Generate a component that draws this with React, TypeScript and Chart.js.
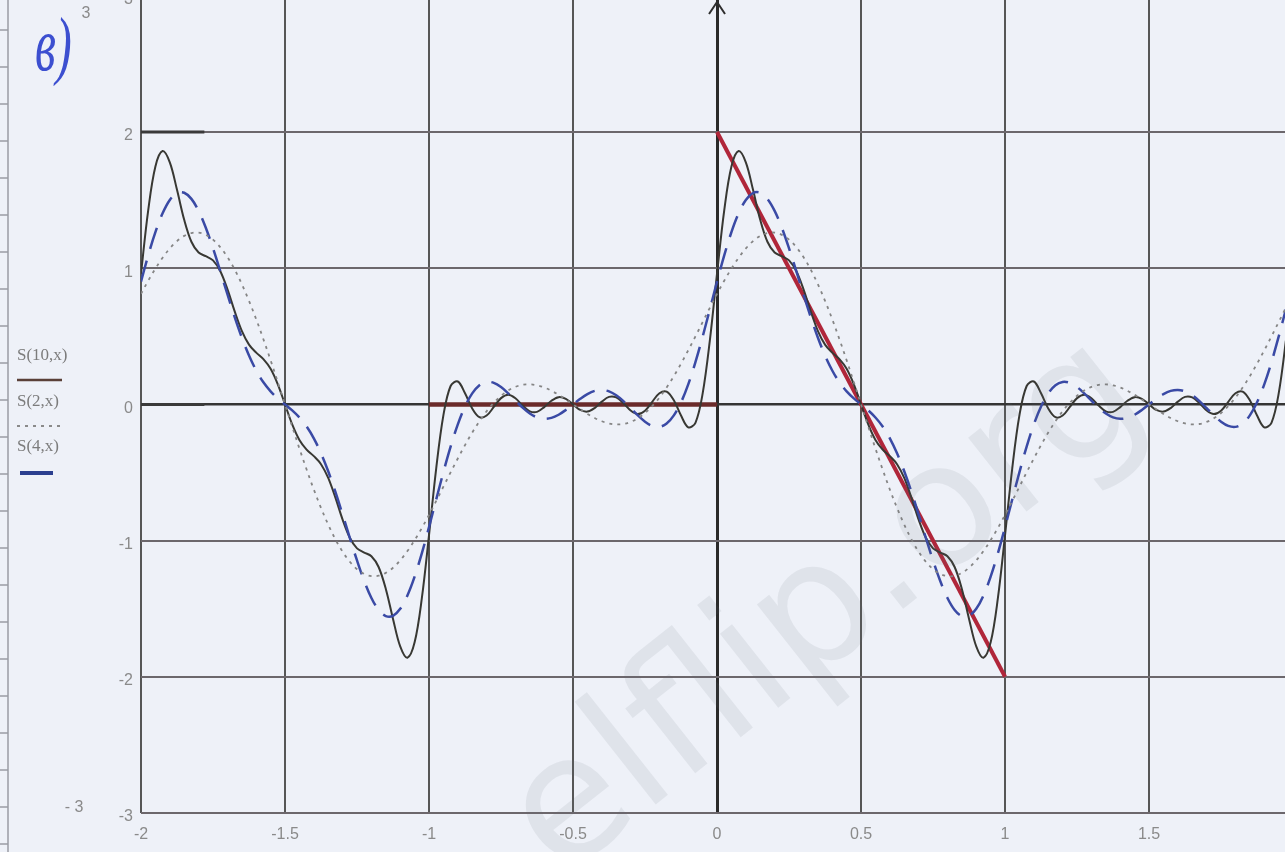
import React, { useEffect, useRef } from "react";
import { Chart, registerables } from "chart.js";

Chart.register(...registerables);

// sample positions along x
const X = [
  -2, -1.975, -1.95, -1.925, -1.9, -1.875, -1.85, -1.825, -1.8, -1.775, -1.75, -1.725, -1.7, -1.675, -1.65, -1.625, -1.6, -1.575, -1.55, -1.525,
  -1.5, -1.475, -1.45, -1.425, -1.4, -1.375, -1.35, -1.325, -1.3, -1.275, -1.25, -1.225, -1.2, -1.175, -1.15, -1.125, -1.1, -1.075, -1.05, -1.025,
  -1, -0.975, -0.95, -0.925, -0.9, -0.875, -0.85, -0.825, -0.8, -0.775, -0.75, -0.725, -0.7, -0.675, -0.65, -0.625, -0.6, -0.575, -0.55, -0.525,
  -0.5, -0.475, -0.45, -0.425, -0.4, -0.375, -0.35, -0.325, -0.3, -0.275, -0.25, -0.225, -0.2, -0.175, -0.15, -0.125, -0.1, -0.075, -0.05, -0.025,
  0, 0.025, 0.05, 0.075, 0.1, 0.125, 0.15, 0.175, 0.2, 0.225, 0.25, 0.275, 0.3, 0.325, 0.35, 0.375, 0.4, 0.425, 0.45, 0.475,
  0.5, 0.525, 0.55, 0.575, 0.6, 0.625, 0.65, 0.675, 0.7, 0.725, 0.75, 0.775, 0.8, 0.825, 0.85, 0.875, 0.9, 0.925, 0.95, 0.975,
  1, 1.025, 1.05, 1.075, 1.1, 1.125, 1.15, 1.175, 1.2, 1.225, 1.25, 1.275, 1.3, 1.325, 1.35, 1.375, 1.4, 1.425, 1.45, 1.475,
  1.5, 1.525, 1.55, 1.575, 1.6, 1.625, 1.65, 1.675, 1.7, 1.725, 1.75, 1.775, 1.8, 1.825, 1.85, 1.875, 1.9, 1.925, 1.95, 1.975,
  2,
];

// S(10,x) – solid
const S10 = [
  0.960, 1.425, 1.747, 1.860, 1.777, 1.575, 1.355, 1.194, 1.115, 1.088, 1.057, 0.979, 0.846, 0.685, 0.540, 0.439, 0.380, 0.332, 0.261, 0.147,
  0, -0.147, -0.261, -0.332, -0.380, -0.439, -0.540, -0.685, -0.846, -0.979, -1.057, -1.088, -1.115, -1.194, -1.355, -1.575, -1.777, -1.860, -1.747, -1.425,
  -0.960, -0.469, -0.079, 0.135, 0.168, 0.082, -0.030, -0.094, -0.082, -0.019, 0.046, 0.071, 0.045, -0.009, -0.051, -0.055, -0.020, 0.027, 0.053, 0.041,
  0, -0.041, -0.053, -0.027, 0.020, 0.055, 0.051, 0.009, -0.045, -0.071, -0.046, 0.019, 0.082, 0.094, 0.030, -0.082, -0.168, -0.135, 0.079, 0.469,
  0.960, 1.425, 1.747, 1.860, 1.777, 1.575, 1.355, 1.194, 1.115, 1.088, 1.057, 0.979, 0.846, 0.685, 0.540, 0.439, 0.380, 0.332, 0.261, 0.147,
  0, -0.147, -0.261, -0.332, -0.380, -0.439, -0.540, -0.685, -0.846, -0.979, -1.057, -1.088, -1.115, -1.194, -1.355, -1.575, -1.777, -1.860, -1.747, -1.425,
  -0.960, -0.469, -0.079, 0.135, 0.168, 0.082, -0.030, -0.094, -0.082, -0.019, 0.046, 0.071, 0.045, -0.009, -0.051, -0.055, -0.020, 0.027, 0.053, 0.041,
  0, -0.041, -0.053, -0.027, 0.020, 0.055, 0.051, 0.009, -0.045, -0.071, -0.046, 0.019, 0.082, 0.094, 0.030, -0.082, -0.168, -0.135, 0.079, 0.469,
  0.960,
];

// S(2,x) – dotted grey
const S2 = [
  0.811, 0.908, 0.997, 1.077, 1.145, 1.199, 1.237, 1.258, 1.261, 1.245, 1.210, 1.155, 1.082, 0.991, 0.883, 0.760, 0.625, 0.478, 0.324, 0.163,
  0, -0.163, -0.324, -0.478, -0.625, -0.760, -0.883, -0.991, -1.082, -1.155, -1.210, -1.245, -1.261, -1.258, -1.237, -1.199, -1.145, -1.077, -0.997, -0.908,
  -0.811, -0.709, -0.604, -0.499, -0.397, -0.299, -0.207, -0.124, -0.050, 0.012, 0.063, 0.102, 0.129, 0.144, 0.147, 0.140, 0.124, 0.100, 0.070, 0.036,
  0, -0.036, -0.070, -0.100, -0.124, -0.140, -0.147, -0.144, -0.129, -0.102, -0.063, -0.012, 0.050, 0.124, 0.207, 0.299, 0.397, 0.499, 0.604, 0.709,
  0.811, 0.908, 0.997, 1.077, 1.145, 1.199, 1.237, 1.258, 1.261, 1.245, 1.210, 1.155, 1.082, 0.991, 0.883, 0.760, 0.625, 0.478, 0.324, 0.163,
  0, -0.163, -0.324, -0.478, -0.625, -0.760, -0.883, -0.991, -1.082, -1.155, -1.210, -1.245, -1.261, -1.258, -1.237, -1.199, -1.145, -1.077, -0.997, -0.908,
  -0.811, -0.709, -0.604, -0.499, -0.397, -0.299, -0.207, -0.124, -0.050, 0.012, 0.063, 0.102, 0.129, 0.144, 0.147, 0.140, 0.124, 0.100, 0.070, 0.036,
  0, -0.036, -0.070, -0.100, -0.124, -0.140, -0.147, -0.144, -0.129, -0.102, -0.063, -0.012, 0.050, 0.124, 0.207, 0.299, 0.397, 0.499, 0.604, 0.709,
  0.811,
];

// S(4,x) – blue dashed
const S4 = [
  0.901, 1.094, 1.265, 1.403, 1.501, 1.552, 1.554, 1.509, 1.421, 1.297, 1.146, 0.980, 0.809, 0.643, 0.491, 0.359, 0.249, 0.162, 0.096, 0.044,
  0, -0.044, -0.096, -0.162, -0.249, -0.359, -0.491, -0.643, -0.809, -0.980, -1.146, -1.297, -1.421, -1.509, -1.554, -1.552, -1.501, -1.403, -1.265, -1.094,
  -0.901, -0.698, -0.497, -0.310, -0.147, -0.015, 0.081, 0.141, 0.165, 0.158, 0.127, 0.081, 0.028, -0.024, -0.067, -0.095, -0.106, -0.099, -0.076, -0.041,
  0, 0.041, 0.076, 0.099, 0.106, 0.095, 0.067, 0.024, -0.028, -0.081, -0.127, -0.158, -0.165, -0.141, -0.081, 0.015, 0.147, 0.310, 0.497, 0.698,
  0.901, 1.094, 1.265, 1.403, 1.501, 1.552, 1.554, 1.509, 1.421, 1.297, 1.146, 0.980, 0.809, 0.643, 0.491, 0.359, 0.249, 0.162, 0.096, 0.044,
  0, -0.044, -0.096, -0.162, -0.249, -0.359, -0.491, -0.643, -0.809, -0.980, -1.146, -1.297, -1.421, -1.509, -1.554, -1.552, -1.501, -1.403, -1.265, -1.094,
  -0.901, -0.698, -0.497, -0.310, -0.147, -0.015, 0.081, 0.141, 0.165, 0.158, 0.127, 0.081, 0.028, -0.024, -0.067, -0.095, -0.106, -0.099, -0.076, -0.041,
  0, 0.041, 0.076, 0.099, 0.106, 0.095, 0.067, 0.024, -0.028, -0.081, -0.127, -0.158, -0.165, -0.141, -0.081, 0.015, 0.147, 0.310, 0.497, 0.698,
  0.901,
];

// the original function f(x) (red)
const F_ZERO_X = [-1, 0];
const F_ZERO_Y = [0, 0];
const F_RAMP_X = [0, 1];
const F_RAMP_Y = [2, -2];

const X_TICKS = [-2, -1.5, -1, -0.5, 0, 0.5, 1, 1.5];
const Y_TICKS = [-3, -2, -1, 0, 1, 2];
const LEGEND_LABELS = ["S(10,x)", "S(2,x)", "S(4,x)"];
const CORNER_LABEL = "в)";
const Y_LIMIT_TOP = "3";
const Y_LIMIT_BOTTOM = "- 3";
const WATERMARK = "elflip.org";

const pts = (xs: number[], ys: number[]) => xs.map((x, i) => ({ x, y: ys[i] }));

const zeroPad = (s: any) => {
  s.paddingTop = 0;
  s.paddingBottom = 0;
  s.paddingLeft = 0;
  s.paddingRight = 0;
};

export default function App() {
  const ref = useRef<HTMLCanvasElement>(null);

  useEffect(() => {
    document.body.style.margin = "0";
    const canvas = ref.current;
    if (!canvas) return;

    const decor = {
      id: "decor",
      beforeDraw(chart: any) {
        const ctx = chart.ctx;
        ctx.save();
        ctx.fillStyle = "#eef1f8";
        ctx.fillRect(0, 0, chart.width, chart.height);
        // graph paper strip at the left
        ctx.strokeStyle = "#9a9ca4";
        ctx.lineWidth = 1.5;
        ctx.beginPath();
        ctx.moveTo(8, 0);
        ctx.lineTo(8, chart.height);
        for (let y = 30; y < chart.height; y += 37) {
          ctx.moveTo(0, y);
          ctx.lineTo(8, y);
        }
        ctx.stroke();
        ctx.restore();
      },
      afterDraw(chart: any) {
        const ctx = chart.ctx;
        const xs = chart.scales.x;
        const ys = chart.scales.y;
        ctx.save();
        // arrow at top of y-axis
        const ax = xs.getPixelForValue(0);
        ctx.strokeStyle = "#2e2e2e";
        ctx.lineWidth = 2;
        ctx.beginPath();
        ctx.moveTo(ax - 8, 14);
        ctx.lineTo(ax, 2);
        ctx.lineTo(ax + 8, 14);
        ctx.stroke();
        // short thick marks at left of the y=2 and y=0 lines
        ctx.strokeStyle = "#3a3a3a";
        ctx.lineWidth = 3;
        ctx.beginPath();
        ctx.moveTo(xs.getPixelForValue(-2), ys.getPixelForValue(2));
        ctx.lineTo(xs.getPixelForValue(-1.78), ys.getPixelForValue(2));
        ctx.moveTo(xs.getPixelForValue(-2), ys.getPixelForValue(0));
        ctx.lineTo(xs.getPixelForValue(-1.78), ys.getPixelForValue(0));
        ctx.stroke();

        // cut-off top tick label and limit labels
        ctx.fillStyle = "#8a8a8a";
        ctx.font = "16px 'Liberation Sans'";
        ctx.textAlign = "right";
        ctx.textBaseline = "middle";
        ctx.fillText("3", 133, ys.getPixelForValue(3) + 4);
        ctx.textAlign = "center";
        ctx.fillText(Y_LIMIT_TOP, 86, 14);
        ctx.fillText(Y_LIMIT_BOTTOM, 74, 808);

        // legend
        ctx.font = "17px 'Liberation Serif'";
        ctx.textAlign = "left";
        ctx.fillStyle = "#7c7c7c";
        ctx.fillText(LEGEND_LABELS[0], 17, 356);
        ctx.fillText(LEGEND_LABELS[1], 17, 402);
        ctx.fillText(LEGEND_LABELS[2], 17, 447);
        ctx.lineWidth = 2.5;
        ctx.strokeStyle = "#5a4038";
        ctx.beginPath();
        ctx.moveTo(17, 380);
        ctx.lineTo(62, 380);
        ctx.stroke();
        ctx.lineWidth = 2;
        ctx.strokeStyle = "#8a8a8a";
        ctx.setLineDash([3, 5]);
        ctx.beginPath();
        ctx.moveTo(17, 426);
        ctx.lineTo(60, 426);
        ctx.stroke();
        ctx.setLineDash([]);
        ctx.lineWidth = 4;
        ctx.strokeStyle = "#2b3f8f";
        ctx.beginPath();
        ctx.moveTo(20, 473);
        ctx.lineTo(53, 473);
        ctx.stroke();

        // handwritten item label
        ctx.save();
        ctx.fillStyle = "#3c4fd0";
        ctx.font = "italic 40px 'Liberation Serif'";
        ctx.translate(35, 50);
        ctx.scale(1.2, 1.9);
        ctx.fillText(CORNER_LABEL, 0, 0);
        ctx.restore();

        // watermark
        ctx.save();
        ctx.fillStyle = "rgba(100,105,120,0.10)";
        ctx.font = "172px 'DejaVu Sans'";
        ctx.textAlign = "left";
        ctx.textBaseline = "alphabetic";
        ctx.translate(560, 880);
        ctx.rotate((-38.3 * Math.PI) / 180);
        ctx.fillText(WATERMARK, 0, 0);
        ctx.restore();

        ctx.restore();
      },
    };

    const chart = new Chart(canvas, {
      type: "line",
      data: {
        datasets: [
          {
            label: "S(2,x)",
            data: pts(X, S2),
            borderColor: "#858585",
            borderWidth: 1.8,
            borderDash: [3, 5],
            pointRadius: 0,
            tension: 0.35,
          },
          {
            label: "S(4,x)",
            data: pts(X, S4),
            borderColor: "#3a4aa5",
            borderWidth: 2.5,
            borderDash: [22, 12],
            pointRadius: 0,
            tension: 0.35,
          },
          {
            label: "S(10,x)",
            data: pts(X, S10),
            borderColor: "#383833",
            borderWidth: 2,
            pointRadius: 0,
            tension: 0.35,
          },
          {
            label: "f zero",
            data: pts(F_ZERO_X, F_ZERO_Y),
            borderColor: "#6a2a2a",
            borderWidth: 4.5,
            pointRadius: 0,
          },
          {
            label: "f ramp",
            data: pts(F_RAMP_X, F_RAMP_Y),
            borderColor: "#b0263a",
            borderWidth: 4,
            pointRadius: 0,
          },
        ],
      },
      options: {
        animation: false,
        responsive: false,
        devicePixelRatio: 1,
        layout: { padding: 0 },
        plugins: { legend: { display: false }, tooltip: { enabled: false } },
        scales: {
          x: {
            type: "linear",
            min: -2,
            max: 1.972,
            afterFit(s: any) {
              s.height = 39;
              zeroPad(s);
            },
            afterBuildTicks(s: any) {
              s.ticks = X_TICKS.map((v) => ({ value: v }));
            },
            border: { display: false },
            grid: {
              drawTicks: false,
              color: (c: any) => (c.tick && c.tick.value === 0 ? "#2a2a2a" : "#565656"),
              lineWidth: (c: any) => (c.tick && c.tick.value === 0 ? 3 : 2),
            },
            ticks: {
              color: "#8a8a8a",
              font: { family: "'Liberation Sans'", size: 16 },
              padding: 12,
              maxRotation: 0,
              autoSkip: false,
              callback: (v: any) => String(v),
            },
          },
          y: {
            type: "linear",
            min: -3,
            max: 2.969,
            afterFit(s: any) {
              s.width = 141;
              zeroPad(s);
            },
            afterBuildTicks(s: any) {
              s.ticks = Y_TICKS.map((v) => ({ value: v }));
            },
            border: { display: false },
            grid: {
              drawTicks: false,
              color: (c: any) => (c.tick && c.tick.value === 0 ? "#353535" : "#6c676c"),
              lineWidth: (c: any) => (c.tick && c.tick.value === 0 ? 2.5 : 2),
            },
            ticks: {
              color: "#8a8a8a",
              font: { family: "'Liberation Sans'", size: 16 },
              padding: 8,
              labelOffset: 4,
              autoSkip: false,
              callback: (v: any) => String(v),
            },
          },
        },
      },
      plugins: [decor],
    });

    return () => chart.destroy();
  }, []);

  return <canvas ref={ref} width={1285} height={852} style={{ display: "block" }} />;
}
